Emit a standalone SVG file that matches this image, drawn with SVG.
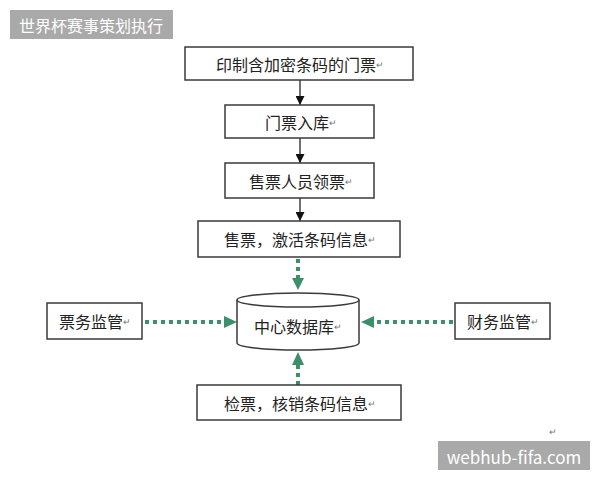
<svg xmlns="http://www.w3.org/2000/svg" width="600" height="480" viewBox="0 0 600 480">
<defs>
<style>
.box{fill:#fff;stroke:#3a3a3a;stroke-width:1.5}
.t{font-family:"Noto Sans CJK SC","Noto Sans",sans-serif;font-size:16px;fill:#222;text-anchor:middle;dominant-baseline:central}
.r{font-size:9px;fill:#777}
.blk{stroke:#111;stroke-width:1.2;fill:none}
.grn{stroke:#3d8f6c;stroke-width:4;stroke-dasharray:4 4;fill:none}
.ga{fill:#3d8f6c}
.wm{fill:#a9a9a9}
.wt{font-family:"Noto Sans CJK SC","Liberation Sans",sans-serif;fill:#fff;dominant-baseline:central}
</style>
<marker id="ab" viewBox="0 0 10 10" refX="10" refY="5" markerWidth="9" markerHeight="9" markerUnits="userSpaceOnUse" orient="auto">
<path d="M0,0 L10,5 L0,10 z" fill="#111"/>
</marker>
</defs>
<rect width="600" height="480" fill="#fff"/>
<g id="title">
<rect class="wm" x="10" y="10" width="163" height="29"/>
<text class="wt" x="91" y="24.5" font-size="16" text-anchor="middle">世界杯赛事策划执行</text>
</g>
<g id="connectors">
<line class="blk" x1="300" y1="80" x2="300" y2="105" marker-end="url(#ab)"/>
<line class="blk" x1="300" y1="138" x2="300" y2="163" marker-end="url(#ab)"/>
<line class="blk" x1="300" y1="198" x2="300" y2="221" marker-end="url(#ab)"/>
<line class="grn" x1="298" y1="259" x2="298" y2="279"/>
<path class="ga" d="M292,278 L304,278 L298,290 z"/>
<line class="grn" x1="145" y1="322" x2="225" y2="322"/>
<path class="ga" d="M224,316 L224,328 L237,322 z"/>
<line class="grn" x1="453" y1="322" x2="374" y2="322"/>
<path class="ga" d="M374,316 L374,328 L361,322 z"/>
<line class="grn" x1="298" y1="385" x2="298" y2="364"/>
<path class="ga" d="M292,365 L304,365 L298,352 z"/>
</g>
<g id="n1">
<rect class="box" x="185" y="47" width="228" height="33"/>
<text class="t" x="300" y="64">印制含加密条码的门票<tspan class="r">↵</tspan></text>
</g>
<g id="n2">
<rect class="box" x="225" y="105" width="149" height="33"/>
<text class="t" x="301" y="122">门票入库<tspan class="r">↵</tspan></text>
</g>
<g id="n3">
<rect class="box" x="225" y="163" width="149" height="35"/>
<text class="t" x="301" y="181">售票人员领票<tspan class="r">↵</tspan></text>
</g>
<g id="n4">
<rect class="box" x="198" y="221" width="202" height="36"/>
<text class="t" x="300" y="239">售票，激活条码信息<tspan class="r">↵</tspan></text>
</g>
<g id="db">
<path class="box" d="M237,300 L237,343 A61,7 0 0 0 359,343 L359,300"/>
<ellipse class="box" cx="298" cy="300" rx="61" ry="7"/>
<text class="t" x="298" y="326">中心数据库<tspan class="r">↵</tspan></text>
</g>
<g id="n5">
<rect class="box" x="47" y="303" width="95" height="36"/>
<text class="t" x="95" y="321">票务监管<tspan class="r">↵</tspan></text>
</g>
<g id="n6">
<rect class="box" x="455" y="303" width="95" height="36"/>
<text class="t" x="503" y="321">财务监管<tspan class="r">↵</tspan></text>
</g>
<g id="n7">
<rect class="box" x="197" y="385" width="204" height="35"/>
<text class="t" x="300" y="403">检票，核销条码信息<tspan class="r">↵</tspan></text>
</g>
<text x="553" y="431" font-family="Noto Sans CJK SC,sans-serif" font-size="9" fill="#777" text-anchor="middle" dominant-baseline="central">↵</text>
<g id="watermark">
<rect class="wm" x="438" y="441" width="152" height="29"/>
<text class="wt" x="514" y="456" font-size="17" text-anchor="middle">webhub-fifa.com</text>
</g>
</svg>
